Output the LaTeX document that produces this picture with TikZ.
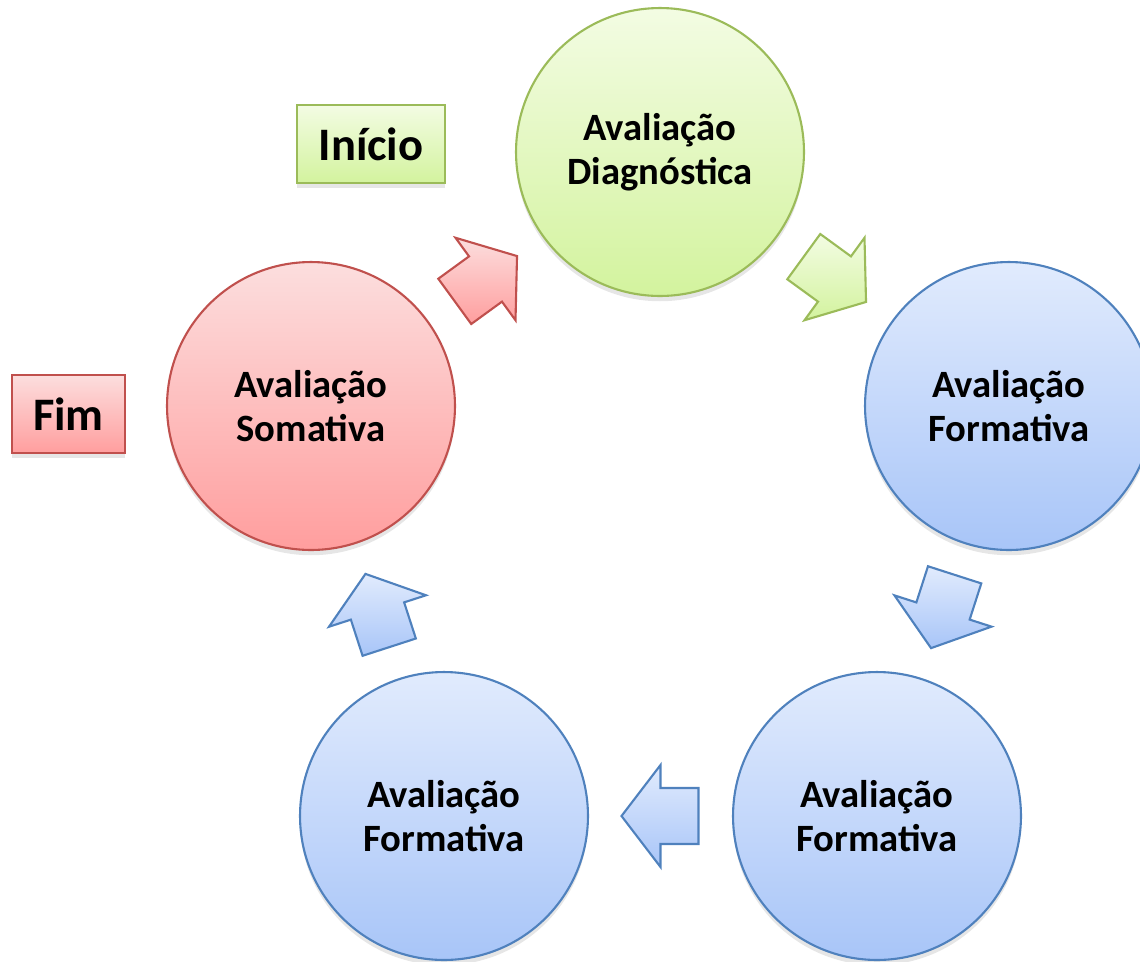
\documentclass[tikz,border=0pt]{standalone}
\usepackage{fontspec}
\setmainfont{Carlito}
\usetikzlibrary{calc,shadows}

\definecolor{grnline}{HTML}{9BBB59}
\definecolor{grntop}{HTML}{F3FCE3}
\definecolor{grnbot}{HTML}{D3F39E}
\definecolor{bluline}{HTML}{4F81BD}
\definecolor{blutop}{HTML}{E1EBFD}
\definecolor{blubot}{HTML}{A8C5F8}
\definecolor{redline}{HTML}{C0504D}
\definecolor{redtop}{HTML}{FCDEDE}
\definecolor{redbot}{HTML}{FF9E9E}

\begin{document}
\begin{tikzpicture}[x=0.02cm,y=-0.02cm,
    etapa/.style={circle,draw,line width=1.2pt,minimum size=5.76cm,inner sep=0pt,
        align=center,font=\bfseries\fontsize{22}{25}\selectfont,
        drop shadow={opacity=0.2,shadow xshift=0pt,shadow yshift=-3pt}},
    marco/.style={rectangle,draw,line width=1.2pt,minimum height=1.56cm,inner sep=0pt,
        font=\bfseries\fontsize{26.5}{28}\selectfont,
        drop shadow={opacity=0.2,shadow xshift=0pt,shadow yshift=-3pt}},
    verde/.style={draw=grnline,top color=grntop,bottom color=grnbot},
    azul/.style={draw=bluline,top color=blutop,bottom color=blubot},
    verm/.style={draw=redline,top color=redtop,bottom color=redbot},
    grnarr/.style={verde,line width=1.2pt,line join=miter},
    bluarr/.style={azul,line width=1.2pt,line join=miter},
    redarr/.style={verm,line width=1.2pt,line join=miter},
    blkarrow/.pic={
        \path[#1] (-38,-28) -- (0,-28) -- (0,-51) -- (39,0) -- (0,51) -- (0,28) -- (-38,28) -- cycle;
    }]
    \useasboundingbox (0,0) rectangle (1140,961);
    %% etapas
    \node[etapa,verde] (diag) at (660,152) {Avaliação\\Diagnóstica};
    \node[etapa,azul] (formA) at (1009,406) {Avaliação\\Formativa};
    \node[etapa,azul] (formB) at (877,816) {Avaliação\\Formativa};
    \node[etapa,azul] (formC) at (444,816) {Avaliação\\Formativa};
    \node[etapa,verm] (soma) at (311,406) {Avaliação\\Somativa};
    %% inicio e fim
    \node[marco,verde,minimum width=2.96cm] (inicio) at (371,144) {Início};
    \node[marco,verm,minimum width=2.26cm] (fim) at (68.5,414) {Fim};
    %% setas entre etapas
    \foreach \a/\b/\s in {soma/diag/redarr,diag/formA/grnarr,formA/formB/bluarr,
        formB/formC/bluarr,formC/soma/bluarr}{
    \path let \p1=(\a.center), \p2=(\b.center), \n1={atan2(\y2-\y1,\x2-\x1)} in
        ($(\a)!0.5!(\b)$) pic[rotate=\n1] {blkarrow=\s};
    }
\end{tikzpicture}
\end{document}
